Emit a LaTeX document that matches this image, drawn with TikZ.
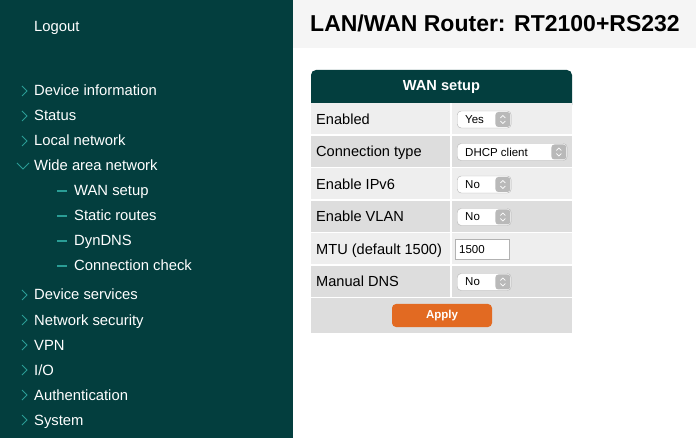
\documentclass[tikz,border=0pt]{standalone}
\usepackage{fontspec}
\setmainfont{Liberation Sans}
\usetikzlibrary{positioning, calc}

\definecolor{side}{HTML}{033E3E}
\definecolor{accent}{HTML}{2A9D95}
\definecolor{rowa}{HTML}{EEEEEE}
\definecolor{rowb}{HTML}{DDDDDD}
\definecolor{apply}{HTML}{E26A22}

\tikzset{
  menu/.style = {anchor = base west, text = white, font = \fontsize{14.8}{16}\selectfont, inner sep = 0},
  lbl/.style = {anchor = base west, font = \fontsize{14.6}{16}\selectfont, inner sep = 0},
  sel/.style = {draw = gray!60, fill = white, rounded corners = 4pt, anchor = west, minimum height = 17pt, inner sep = 0, font = \fontsize{11.5}{13}\selectfont},
  chev/.style = {accent, line width = 0.8pt}
}
\newcommand{\seltext}[2]{\makebox[#1][l]{\hspace{8pt}#2}}

\begin{document}
\begin{tikzpicture}[x = 1pt, y = -1pt]
\useasboundingbox (0, 0) rectangle (696, 438);
\fill[white] (0, 0) rectangle (696, 438);
\fill[side] (0, 0) rectangle (293, 438);
\fill[gray!8] (293, 0) rectangle (696, 48);

\node[anchor = base west, inner sep = 0, font = \bfseries\fontsize{23}{26}\selectfont] (title) at (310, 32) {LAN/WAN Router: RT2100+RS232};

% sidebar
\node[menu] (logout) at (34, 32) {Logout};
\foreach \t [count = \i] in {Device information, Status, Local network} {
  \node[menu] (m\i) at (34, 71 + 25*\i) {\t};
  \draw[chev] (22, 61 + 25*\i) -- ++(5, 5) -- ++(-5, 5);
}
\node[menu] (m4) at (34, 171) {Wide area network};
\draw[chev] (17, 163) -- ++(6, 6) -- ++(6, -6);
\foreach \t [count = \i] in {WAN setup, Static routes, DynDNS, Connection check} {
  \node[menu] (s\i) at (74, 171 + 25*\i) {\t};
  \draw[accent, line width = 1.5pt] (57, 166 + 25*\i) -- ++(10, 0);
}
\foreach \t [count = \i] in {Device services, Network security, VPN, I/O, Authentication, System} {
  \node[menu] (n\i) at (34, 275 + 25*\i) {\t};
  \draw[chev] (22, 265 + 25*\i) -- ++(5, 5) -- ++(-5, 5);
}

% form
\fill[side, rounded corners = 5pt] (311, 70) rectangle (572, 110);
\fill[side] (311, 95) rectangle (572, 103);
\node[text = white, font = \bfseries\fontsize{14.6}{16}\selectfont] (head) at (441.5, 86.5) {WAN setup};
\foreach \t/\c [count = \i] in {Enabled/rowa, Connection type/rowb, Enable IPv6/rowa, Enable VLAN/rowb, MTU (default 1500)/rowa, Manual DNS/rowb} {
  \fill[\c] (311, 71 + 32.5*\i) rectangle (572, 103 + 32.5*\i);
  \draw[white, line width = 2pt] (311, 103 + 32.5*\i) -- (572, 103 + 32.5*\i);
  \draw[white, line width = 2pt] (451, 71 + 32.5*\i) -- (451, 103 + 32.5*\i);
  \node[lbl] (r\i) at (316, 92 + 32.5*\i) {\t};
}
\fill[rowb] (311, 298) rectangle (572, 333);

\node[sel] (yes) at (457, 119.5) {\seltext{54pt}{Yes}};
\node[sel] (dhcp) at (457, 152) {\seltext{110pt}{DHCP client}};
\node[sel] (ipv6) at (457, 184.5) {\seltext{54pt}{No}};
\node[sel] (vlan) at (457, 217) {\seltext{54pt}{No}};
\node[draw = gray!60, fill = white, anchor = west, minimum height = 20pt, inner sep = 0, font = \fontsize{11.5}{13}\selectfont] (mtu) at (455, 249.5) {\makebox[54pt][l]{\hspace{4pt}1500}};
\node[sel] (dns) at (457, 282) {\seltext{54pt}{No}};
\foreach \s in {yes, dhcp, ipv6, vlan, dns} {
  \fill[gray!55, rounded corners = 3pt] ($(\s.east) + (-16, -7.5)$) rectangle ($(\s.east) + (-1, 7.5)$);
  \draw[white, line width = 0.6pt] ($(\s.east) + (-11, -1.5)$) -- ++(2.5, -2.5) -- ++(2.5, 2.5);
  \draw[white, line width = 0.6pt] ($(\s.east) + (-11, 1.5)$) -- ++(2.5, 2.5) -- ++(2.5, -2.5);
}
\node[fill = apply, rounded corners = 4pt, minimum width = 100pt, minimum height = 23pt, text = white, font = \bfseries\fontsize{11.5}{13}\selectfont] (applybtn) at (442, 315.5) {Apply};
\end{tikzpicture}
\end{document}
